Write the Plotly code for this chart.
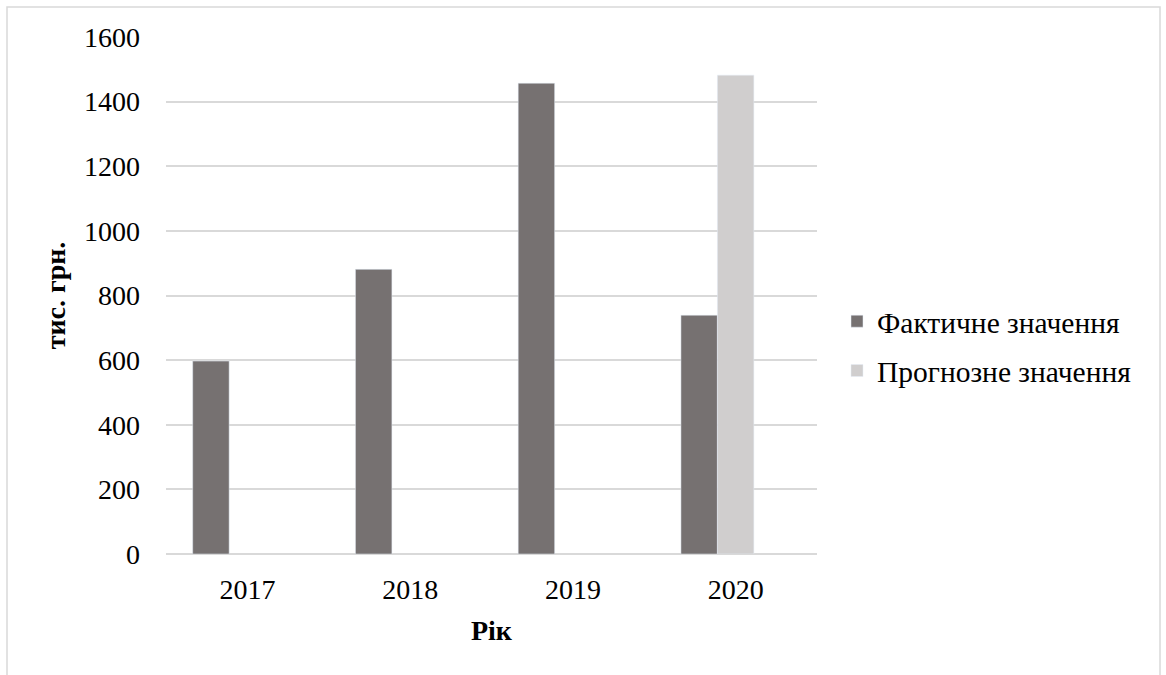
import plotly.graph_objects as go

years = ["2017", "2018", "2019", "2020"]
actual = [597, 881, 1457, 739]
forecast = [None, None, None, 1482]
series_names = ["Фактичне значення", "Прогнозне значення"]
y_ticks = [0, 200, 400, 600, 800, 1000, 1200, 1400, 1600]

FONT = "Liberation Serif, Times New Roman, serif"
FS = 28

L, R, T, B = 166, 817, 37, 554
W, H = 1166, 675
pw, ph = R - L, B - T

# Excel-style clustered layout: three slots per category (third slot empty)
bw = 0.224
fig = go.Figure()
fig.add_trace(go.Bar(x=years, y=actual, name=series_names[0], marker_color="#767171",
                     width=bw, offset=-1.5 * bw, legendgroup="a"))
fig.add_trace(go.Bar(x=years, y=forecast, name=series_names[1], marker_color="#D0CECE",
                     width=bw, offset=-0.5 * bw, legendgroup="b"))

fig.update_layout(
    width=W, height=H,
    margin=dict(l=L, r=W - R, t=T, b=H - B, pad=0),
    paper_bgcolor="white", plot_bgcolor="white",
    barmode="overlay",
    font=dict(family=FONT, size=FS, color="black"),
    showlegend=True,
    legend=dict(x=(837 - L) / pw, y=(B - 346) / ph, xanchor="left", yanchor="middle",
                font=dict(family=FONT, size=29.5), traceorder="grouped", tracegroupgap=8,
                itemwidth=30, bgcolor="rgba(0,0,0,0)"),
    xaxis=dict(title=dict(text="<b>Рік</b>", font=dict(size=FS), standoff=16),
               showgrid=False, showline=False, ticks="", ticklabelstandoff=16,
               tickfont=dict(size=FS)),
    yaxis=dict(title=dict(text="<b>тис. грн.</b>", font=dict(size=FS), standoff=10),
               range=[0, 1600], tickvals=y_ticks, showgrid=True, gridcolor="#D9D9D9",
               gridwidth=1.5, zeroline=True, zerolinecolor="#D9D9D9", zerolinewidth=1.5,
               showline=False, ticks="", ticklabelstandoff=25, tickfont=dict(size=FS)),
    shapes=[dict(type="rect", xref="paper", yref="paper",
                 x0=(7 - L) / pw, x1=(1160 - L) / pw, y0=(B - 700) / ph, y1=(B - 7) / ph,
                 line=dict(color="#D9D9D9", width=1.5), fillcolor="rgba(0,0,0,0)", layer="below")],
)

fig.write_html("out.html")
